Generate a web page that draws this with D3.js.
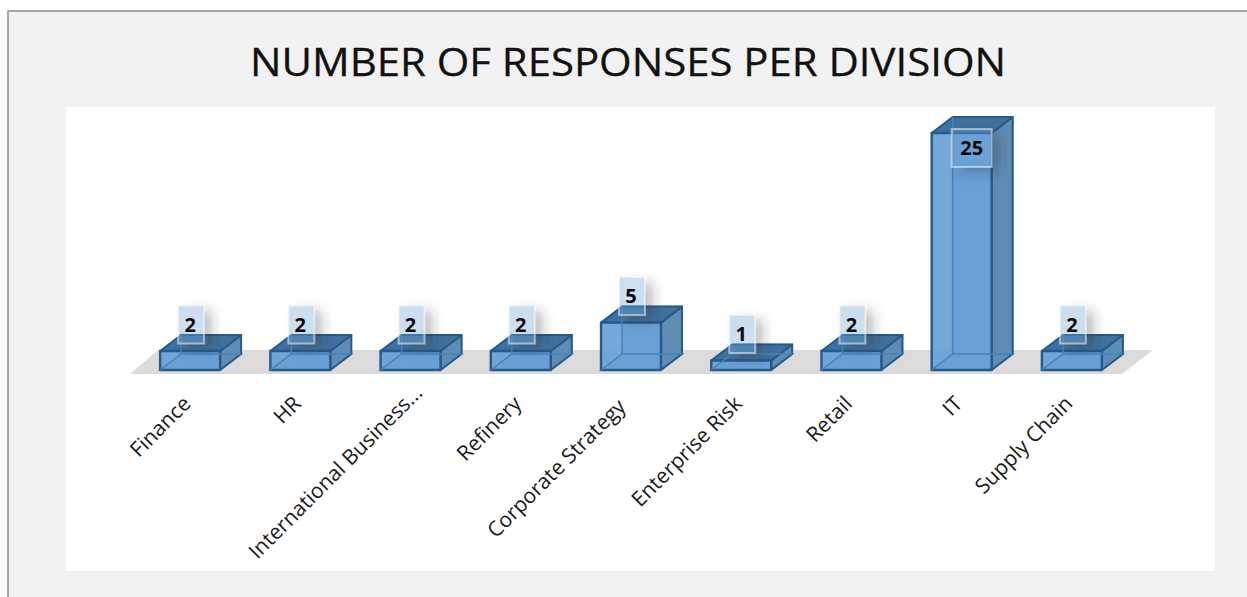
<!DOCTYPE html>
<html><head><meta charset="utf-8"><script src="https://cdn.jsdelivr.net/npm/d3@7/dist/d3.min.js"></script>
<style>html,body{margin:0;padding:0;background:#fff}svg{display:block}text{font-family:"Open Sans",sans-serif}</style></head>
<body><svg id="c" width="1247" height="597"></svg>
<script>
const categories=["Finance","HR","International Business...","Refinery","Corporate Strategy","Enterprise Risk","Retail","IT","Supply Chain"];
const values=[2,2,2,2,5,1,2,25,2];
const titleText="NUMBER OF RESPONSES PER DIVISION";
const svg=d3.select("#c");
const x=d3.scaleBand().domain(categories).range([135,1127]).paddingInner(0.456).paddingOuter(0.228);
const y=d3.scaleLinear().domain([0,25]).range([370,133]);
const dx=21,dy=-16;
const defs=svg.append("defs");
const blur=defs.append("filter").attr("id","b").attr("x","-60%").attr("y","-60%").attr("width","220%").attr("height","220%");
blur.append("feGaussianBlur").attr("stdDeviation",6);
const soft=defs.append("filter").attr("id","s").attr("x","-5%").attr("y","-5%").attr("width","110%").attr("height","110%");
soft.append("feGaussianBlur").attr("stdDeviation",0.5);
svg.append("rect").attr("x",8).attr("y",11).attr("width",1300).attr("height",700).attr("fill","#f2f2f2").attr("stroke","#8c8c8c").attr("stroke-width",1.5);
svg.append("rect").attr("x",66).attr("y",107).attr("width",1149).attr("height",464).attr("fill","#fff");
svg.append("text").attr("x",628).attr("y",76).attr("text-anchor","middle").attr("font-size",39).attr("fill","#111").attr("stroke","#111").attr("stroke-width",0.3).attr("textLength",756).attr("lengthAdjust","spacingAndGlyphs").text(titleText);
svg.append("polygon").attr("points",[[130,374],[1122,374],[1153,350],[158,350]].join(" ")).attr("fill","#dcdada");
const path=p=>"M"+p.map(d=>d.join(",")).join("L")+"Z";
const line="#255a8c",inner="#4a83b8";
const g=svg.selectAll("g.bar").data(categories.map((c,i)=>({c,v:values[i]}))).join("g").attr("class","bar").attr("filter","url(#s)");
g.each(function(d){
 const s=d3.select(this),l=x(d.c),r=l+x.bandwidth(),b=y(0),t=y(d.v);
 s.append("path").attr("d",path([[l+dx,b+dy],[r+dx,b+dy],[r+dx,t+dy],[l+dx,t+dy]])).attr("fill","#6a9ecf").attr("stroke",inner).attr("stroke-width",1.5);
 s.append("path").attr("d",path([[l,b],[r,b],[r+dx,b+dy],[l+dx,b+dy]])).attr("fill","#5a96cf").attr("stroke",inner).attr("stroke-width",1.5);
 s.append("path").attr("d",path([[r,b],[r+dx,b+dy],[r+dx,t+dy],[r,t]])).attr("fill","#5e8cb5").attr("stroke",line).attr("stroke-width",2).attr("stroke-linejoin","round");
 s.append("path").attr("d",path([[l,t],[r,t],[r+dx,t+dy],[l+dx,t+dy]])).attr("fill","#41709c").attr("stroke",line).attr("stroke-width",2).attr("stroke-linejoin","round");
 s.append("path").attr("d",path([[l,b],[r,b],[r,t],[l,t]])).attr("fill","#689fd6").attr("fill-opacity",0.92).attr("stroke",line).attr("stroke-width",2.4).attr("stroke-linejoin","round");
 s.append("path").attr("d",`M${l+dx},${t+dy}V${b+dy}M${l},${b}L${l+dx},${b+dy}H${r+dx}`).attr("fill","none").attr("stroke",inner).attr("stroke-width",1.5);
});
const lab=svg.selectAll("g.lab").data(categories.map((c,i)=>({c,v:values[i]}))).join("g").attr("class","lab");
lab.each(function(d,i){
 const s=d3.select(this),cx=x(d.c)+x.bandwidth()/2,big=d.v>=10;
 const w=big?40:26,h=38;
 const bx=big?cx+10:cx+1;
 const cy=big?y(d.v)+15:y(d.v)-26.5;
 const left=bx-w/2,top=cy-h/2;
 defs.append("clipPath").attr("id","o"+i).append("path").attr("clip-rule","evenodd")
   .attr("d",`M0,0H1247V597H0Z M${left},${top}h${w}v${h}h${-w}Z`);
 s.append("g").attr("clip-path",`url(#o${i})`).append("rect").attr("x",left+8).attr("y",top+5).attr("width",w).attr("height",h).attr("fill","#333").attr("fill-opacity",0.3).attr("filter","url(#b)");
 s.append("rect").attr("x",left).attr("y",top).attr("width",w).attr("height",h).attr("fill","#6ea5d8").attr("fill-opacity",0.36).attr("stroke","#fff").attr("stroke-opacity",0.5).attr("stroke-width",2);
 s.append("text").attr("x",big?bx:cx).attr("y",cy+7).attr("text-anchor","middle").attr("font-size",20).attr("font-weight",700).attr("fill","#0a0a0a").text(d.v);
});
const nudge=c=>c.startsWith("International")?[10,-11]:c.startsWith("Corporate")?[-7,3]:[-1,0];
svg.selectAll("text.cat").data(categories).join("text").attr("class","cat").attr("text-anchor","end").attr("font-size",21).attr("fill","#1a1a1a")
 .attr("transform",c=>`translate(${x(c)+x.bandwidth()/2+3+nudge(c)[0]},${405+nudge(c)[1]}) rotate(-45)`).text(c=>c);
</script></body></html>
